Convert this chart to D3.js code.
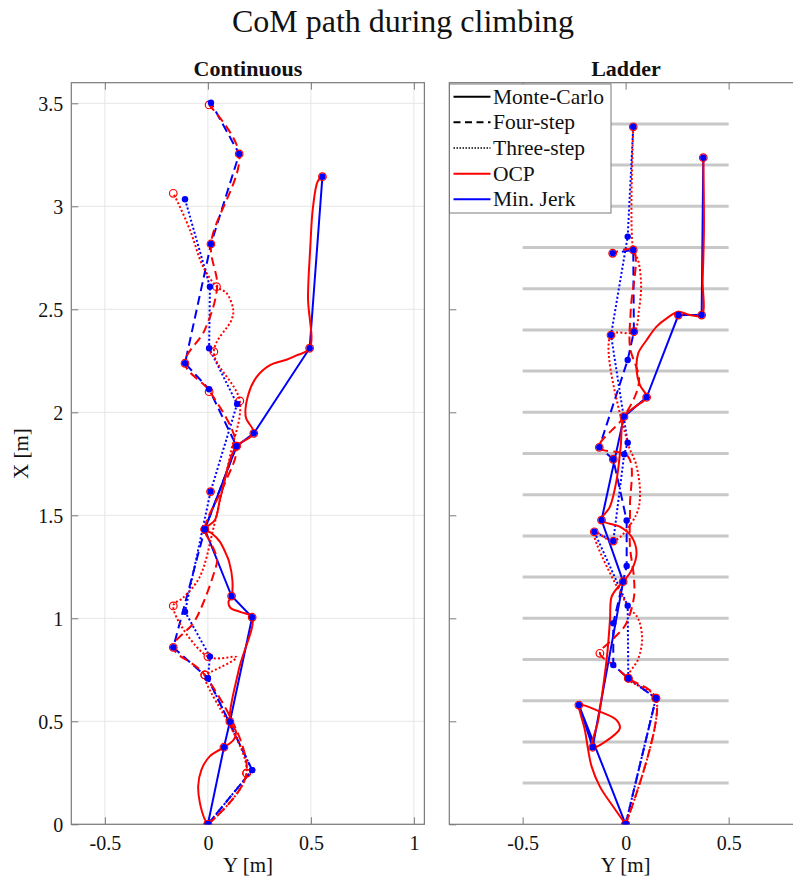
<!DOCTYPE html>
<html>
<head>
<meta charset="utf-8">
<script src="https://cdn.jsdelivr.net/npm/d3@7"></script>
<style>
  html, body { margin: 0; padding: 0; background: #fff; }
  svg { display: block; }
  text { font-family: "Liberation Serif", "Times New Roman", serif; fill: #111; }
</style>
</head>
<body>
<svg id="chart" width="793" height="886"></svg>
<script>
// ---------- data: CoM paths, points are [Y, X] in metres ----------
const title = "CoM path during climbing";
const panelTitles = ["Continuous", "Ladder"];
const xTicks = [-0.5, 0, 0.5, 1];
const yTicks = [0, 0.5, 1, 1.5, 2, 2.5, 3, 3.5];
const yTickLabels = ["0", "0.5", "1", "1.5", "2", "2.5", "3", "3.5"];
const legendLabels = ["Monte-Carlo", "Four-step", "Three-step", "OCP", "Min. Jerk"];
const rungHeights = [0.2, 0.4, 0.6, 0.8, 1.0, 1.2, 1.4, 1.6, 1.8, 2.0, 2.2, 2.4, 2.6, 2.8, 3.0, 3.2, 3.4];

// Continuous wall
const contMC_mj = [[0,0],[0.078,0.374],[0.107,0.498],[0.215,1.005],[0.115,1.108],[-0.015,1.432],[0.139,1.836],[0.223,1.898],[0.494,2.311],[0.556,3.144]];
const contMC_ocp = [[0,0],[-0.015,0.024],[-0.039,0.105],[-0.047,0.186],[-0.031,0.266],[0.010,0.331],[0.078,0.374],[0.126,0.412],[0.136,0.452],[0.107,0.498],[0.150,0.750],[0.215,1.005],[0.160,1.030],[0.110,1.050],[0.100,1.080],[0.115,1.108],[0.119,1.186],[0.103,1.275],[0.094,1.299],[0.058,1.372],[0.018,1.413],[-0.015,1.432],[0.034,1.477],[0.058,1.574],[0.082,1.671],[0.107,1.768],[0.139,1.836],[0.223,1.898],[0.184,1.977],[0.195,2.082],[0.236,2.171],[0.300,2.228],[0.381,2.255],[0.430,2.276],[0.494,2.311],[0.486,2.558],[0.497,2.800],[0.510,2.994],[0.534,3.123],[0.556,3.144]];
const contMC_ocpMarks = [[0,0],[0.078,0.374],[0.107,0.498],[0.215,1.005],[0.115,1.108],[-0.015,1.432],[0.139,1.836],[0.223,1.898],[0.494,2.311],[0.556,3.144]];

const contFour_mj = [[0,0],[0.215,0.263],[0.0,0.709],[-0.168,0.859],[-0.015,1.432],[0.139,1.836],[0.006,2.112],[-0.111,2.238],[0.015,2.817],[0.152,3.254],[0.015,3.503]];
const contFour_ocp = [[0,0],[0.188,0.248],[-0.015,0.725],[-0.168,0.859],[-0.071,0.976],[-0.023,1.073],[0.034,1.234],[0.045,1.283],[0.018,1.360],[-0.015,1.432],[0.080,1.650],[0.139,1.836],[0.010,2.100],[-0.111,2.238],[-0.015,2.400],[0.045,2.610],[0.015,2.817],[0.152,3.254],[0.006,3.492]];
const contFour_ocpMarks = [[0,0],[0.188,0.248],[-0.015,0.725],[-0.168,0.859],[-0.015,1.432],[0.139,1.836],[0.006,2.100],[-0.111,2.238],[0.015,2.817],[0.152,3.254],[0.006,3.492]];

const contThree_mj = [[0,0],[0.215,0.263],[0.0,0.709],[0.01,0.814],[-0.111,1.032],[0.013,1.615],[0.142,2.040],[0.006,2.311],[0.010,2.610],[-0.111,3.034]];
const contThree_ocp = [[0,0],[0.188,0.248],[-0.015,0.725],[0.018,0.741],[0.139,0.811],[0.0,0.814],[-0.168,1.060],[-0.120,1.100],[-0.040,1.200],[0.030,1.450],[0.068,1.615],[0.110,1.800],[0.155,2.055],[0.029,2.294],[0.115,2.449],[0.123,2.497],[0.091,2.578],[0.042,2.610],[-0.023,2.707],[-0.087,2.885],[-0.144,3.015],[-0.168,3.063]];
const contThree_ocpMarks = [[0,0],[0.188,0.248],[-0.015,0.725],[0.0,0.814],[-0.168,1.060],[0.013,1.615],[0.155,2.055],[0.029,2.294],[0.042,2.610],[-0.168,3.063]];

// Ladder
const ladMC_mj = [[0,0],[-0.227,0.579],[-0.160,0.374],[-0.012,1.178],[-0.117,1.477],[-0.008,1.979],[0.102,2.073],[0.256,2.472],[0.369,2.472],[0.377,3.236]];
const ladMC_ocp = [[0,0],[-0.060,0.085],[-0.125,0.183],[-0.165,0.280],[-0.182,0.361],[-0.198,0.458],[-0.222,0.547],[-0.227,0.579],[-0.125,0.547],[-0.044,0.506],[-0.028,0.466],[-0.076,0.417],[-0.160,0.374],[-0.133,0.506],[-0.109,0.668],[-0.089,0.830],[-0.076,0.992],[-0.068,1.105],[-0.036,1.153],[-0.012,1.178],[0.029,1.234],[0.053,1.316],[0.029,1.396],[-0.028,1.445],[-0.117,1.477],[-0.076,1.542],[-0.044,1.671],[-0.024,1.833],[-0.008,1.979],[0.050,2.030],[0.102,2.073],[0.069,2.133],[0.053,2.205],[0.061,2.286],[0.102,2.351],[0.150,2.416],[0.199,2.456],[0.256,2.488],[0.312,2.472],[0.369,2.472],[0.374,2.642],[0.380,2.885],[0.377,3.236]];
const ladMC_ocpMarks = [[0,0],[-0.160,0.374],[-0.227,0.579],[-0.012,1.178],[-0.117,1.477],[-0.008,1.979],[0.102,2.073],[0.256,2.472],[0.369,2.472],[0.377,3.236]];

const ladFour_mj = [[0,0],[0.147,0.612],[0.013,0.709],[-0.060,0.773],[-0.060,0.976],[0.005,1.254],[0.005,1.475],[-0.060,1.772],[-0.128,1.830],[0.010,2.254],[0.040,2.391],[0.037,2.788],[-0.063,2.772]];
const ladFour_ocp = [[0,0],[0.147,0.612],[0.013,0.709],[-0.060,0.773],[-0.125,0.830],[-0.060,0.900],[0.000,0.970],[0.040,1.100],[0.040,1.200],[0.021,1.350],[0.021,1.542],[0.013,1.784],[-0.128,1.830],[-0.008,1.979],[0.065,2.150],[0.021,2.318],[0.025,2.500],[0.037,2.788],[-0.063,2.772]];
const ladFour_ocpMarks = [[0,0],[0.147,0.612],[0.013,0.709],[-0.125,0.830],[-0.060,1.772],[-0.128,1.830],[0.037,2.788],[-0.063,2.772]];

const ladThree_mj = [[0,0],[0.147,0.612],[0.013,0.709],[0.010,1.061],[-0.152,1.420],[-0.060,1.375],[-0.007,1.796],[0.010,1.852],[-0.071,2.375],[0.010,2.853],[0.037,3.386]];
const ladThree_ocp = [[0,0],[0.147,0.612],[0.013,0.709],[0.060,0.800],[0.080,0.900],[0.060,1.000],[0.010,1.061],[-0.152,1.420],[-0.060,1.375],[0.050,1.500],[0.070,1.600],[0.050,1.750],[0.010,1.852],[-0.071,2.375],[0.040,2.391],[0.065,2.500],[0.075,2.620],[0.060,2.740],[0.037,2.788],[0.037,3.386]];
const ladThree_ocpMarks = [[0,0],[0.147,0.612],[0.013,0.709],[-0.152,1.420],[-0.060,1.375],[0.040,2.391],[-0.071,2.375],[0.037,3.386]];

// ---------- layout ----------
const svg = d3.select("#chart");
const W = 793, H = 886;
const unit = 206;                      // pixels per metre, equal on both axes
const plotTop = 82.7, plotBottom = 824.3;
const serif = "'Liberation Serif', 'Times New Roman', serif";

const colors = { ocp: "#ff0000", mj: "#0000ff", axis: "#7a7a7a", grid: "#e6e6e6", rung: "#c8c8c8" };
const dashes = { mc: null, four: "9,5", three: "2,2.2" };

svg.append("rect").attr("width", W).attr("height", H).attr("fill", "#fff");

svg.append("text")
  .attr("x", 403).attr("y", 32)
  .attr("text-anchor", "middle")
  .style("font-size", "32px")
  .text(title);

function makePanel(opts) {
  const g = svg.append("g");
  const x = d3.scaleLinear().domain(opts.xDomain).range([opts.left, opts.left + (opts.xDomain[1] - opts.xDomain[0]) * unit]);
  const y = d3.scaleLinear().domain([0, 3.6]).range([plotBottom, plotTop]);
  const x0 = x.range()[0], x1 = x.range()[1];

  const clipId = "clip-" + opts.name;
  svg.append("clipPath").attr("id", clipId)
    .append("rect").attr("x", x0).attr("y", plotTop).attr("width", x1 - x0).attr("height", plotBottom - plotTop);

  if (opts.grid) {
    g.append("g").selectAll("line").data(xTicks).join("line")
      .attr("x1", d => x(d)).attr("x2", d => x(d)).attr("y1", plotTop).attr("y2", plotBottom)
      .attr("stroke", colors.grid).attr("stroke-width", 1);
    g.append("g").selectAll("line").data(yTicks).join("line")
      .attr("x1", x0).attr("x2", x1).attr("y1", d => y(d)).attr("y2", d => y(d))
      .attr("stroke", colors.grid).attr("stroke-width", 1);
  }

  if (opts.rungs) {
    g.append("g").selectAll("line").data(rungHeights).join("line")
      .attr("x1", x(-0.5)).attr("x2", x(0.5)).attr("y1", d => y(d)).attr("y2", d => y(d))
      .attr("stroke", colors.rung).attr("stroke-width", 3);
  }

  // axes
  const shownX = xTicks.filter(t => t >= opts.xDomain[0] && t <= opts.xDomain[1]);
  const xAxis = d3.axisBottom(x).tickValues(shownX)
    .tickFormat(d => String(d)).tickSizeInner(-7).tickSizeOuter(0).tickPadding(12);
  const xAxisTop = d3.axisTop(x).tickValues(shownX)
    .tickFormat("").tickSizeInner(-7).tickSizeOuter(0);
  const yAxis = d3.axisLeft(y).tickValues(yTicks)
    .tickFormat((d, i) => opts.yLabels ? yTickLabels[i] : "").tickSizeInner(-7).tickSizeOuter(0).tickPadding(8);

  const gx = g.append("g").attr("transform", `translate(0,${plotBottom})`).call(xAxis);
  const gxt = g.append("g").attr("transform", `translate(0,${plotTop})`).call(xAxisTop);
  const gy = g.append("g").attr("transform", `translate(${x0},0)`).call(yAxis);
  [gx, gxt, gy].forEach(a => {
    a.attr("font-family", null);
    a.select(".domain").remove();
    a.selectAll("line").attr("stroke", colors.axis);
    a.selectAll("text").style("font-size", "20px").attr("fill", "#111").style("font-family", serif);
  });
  gy.selectAll("text").attr("dy", "0.35em");

  // frame
  g.append("rect").attr("x", x0).attr("y", plotTop).attr("width", x1 - x0).attr("height", plotBottom - plotTop)
    .attr("fill", "none").attr("stroke", colors.axis).attr("stroke-width", 1.2);

  // panel title
  svg.append("text").attr("x", opts.titleX).attr("y", 76)
    .attr("text-anchor", "middle").style("font-size", "22px").style("font-weight", "bold")
    .text(opts.title);

  // x label
  svg.append("text").attr("x", x(opts.xLabelAt)).attr("y", 872)
    .attr("text-anchor", "middle").style("font-size", "21px").text("Y [m]");

  // data layers
  const plot = svg.append("g").attr("clip-path", `url(#${clipId})`);
  const lineLin = d3.line().x(d => x(d[0])).y(d => y(d[1]));
  const lineCurve = d3.line().x(d => x(d[0])).y(d => y(d[1])).curve(d3.curveCatmullRom.alpha(0.5));

  opts.series.forEach(s => {
    plot.append("path").datum(s.mj).attr("d", lineLin)
      .attr("fill", "none").attr("stroke", colors.mj).attr("stroke-width", 2)
      .attr("stroke-dasharray", dashes[s.style]);
  });
  opts.series.forEach(s => {
    plot.append("path").datum(s.ocp).attr("d", lineCurve)
      .attr("fill", "none").attr("stroke", colors.ocp).attr("stroke-width", 2)
      .attr("stroke-dasharray", dashes[s.style]);
  });
  opts.series.forEach(s => {
    plot.append("g").selectAll("circle").data(s.ocpMarks).join("circle")
      .attr("cx", d => x(d[0])).attr("cy", d => y(d[1])).attr("r", 3.8)
      .attr("fill", "none").attr("stroke", colors.ocp).attr("stroke-width", 1.2);
  });
  opts.series.forEach(s => {
    plot.append("g").selectAll("circle").data(s.mj).join("circle")
      .attr("cx", d => x(d[0])).attr("cy", d => y(d[1])).attr("r", 3.2)
      .attr("fill", colors.mj);
  });

  return { x, y };
}

// Y-axis label
svg.append("text")
  .attr("transform", `translate(28,${(plotTop + plotBottom) / 2}) rotate(-90)`)
  .attr("text-anchor", "middle").style("font-size", "21px").text("X [m]");

makePanel({
  name: "cont", title: panelTitles[0], titleX: 248,
  xDomain: [-0.663, 1.051], left: 71.3, grid: true, rungs: false, yLabels: true, xLabelAt: 0.195,
  series: [
    { style: "mc", mj: contMC_mj, ocp: contMC_ocp, ocpMarks: contMC_ocpMarks },
    { style: "four", mj: contFour_mj, ocp: contFour_ocp, ocpMarks: contFour_ocpMarks },
    { style: "three", mj: contThree_mj, ocp: contThree_ocp, ocpMarks: contThree_ocpMarks }
  ]
});

makePanel({
  name: "lad", title: panelTitles[1], titleX: 626,
  xDomain: [-0.856, 0.856], left: 449.3, grid: false, rungs: true, yLabels: false, xLabelAt: 0,
  series: [
    { style: "mc", mj: ladMC_mj, ocp: ladMC_ocp, ocpMarks: ladMC_ocpMarks },
    { style: "four", mj: ladFour_mj, ocp: ladFour_ocp, ocpMarks: ladFour_ocpMarks },
    { style: "three", mj: ladThree_mj, ocp: ladThree_ocp, ocpMarks: ladThree_ocpMarks }
  ]
});

// legend
const lg = svg.append("g").attr("transform", "translate(449.5,84)");
lg.append("rect").attr("width", 161.5).attr("height", 129)
  .attr("fill", "#fff").attr("stroke", colors.axis).attr("stroke-width", 1);
const legendItems = [
  { label: legendLabels[0], color: "#000", dash: null },
  { label: legendLabels[1], color: "#000", dash: "7,4.5" },
  { label: legendLabels[2], color: "#000", dash: "1.5,1.5" },
  { label: legendLabels[3], color: colors.ocp, dash: null },
  { label: legendLabels[4], color: colors.mj, dash: null }
];
legendItems.forEach((d, i) => {
  const yy = 12.7 + i * 25.65;
  lg.append("line").attr("x1", 4).attr("x2", 41).attr("y1", yy).attr("y2", yy)
    .attr("stroke", d.color).attr("stroke-width", i === 2 ? 1.5 : 2).attr("stroke-dasharray", d.dash);
  lg.append("text").attr("x", 43.5).attr("y", yy).attr("dy", "0.33em")
    .style("font-size", "21.5px").text(d.label);
});
</script>
</body>
</html>
